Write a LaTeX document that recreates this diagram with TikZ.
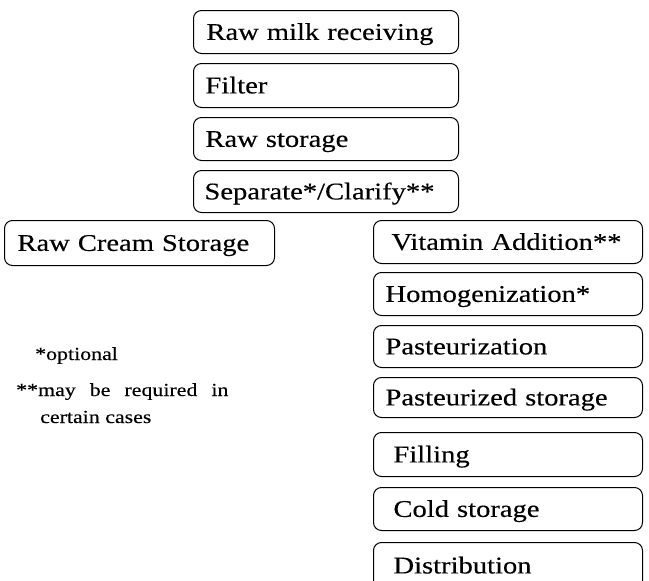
\documentclass[tikz,border=0pt]{standalone}
\usepackage{fontspec}
\setmainfont[FakeStretch=1.19, FakeBold=0.3]{Liberation Serif}
\begin{document}
\begin{tikzpicture}[x=1pt,y=-1pt,
  stepbox/.style={draw, line width=1pt, rounded corners=8pt, anchor=north west,
    inner ysep=0pt, text height=15.8pt, text depth=0pt,
    font=\fontsize{24}{28}\selectfont, align=left},
  note/.style={anchor=base west, inner sep=0pt, font=\fontsize{18.4}{22}\selectfont}]
  \clip (0,0) rectangle (649,581);
  % main line
  \node[stepbox, minimum width=265pt, minimum height=43pt, text width=239pt, inner xsep=13pt] (recv) at (193,10) {Raw milk receiving};
  \node[stepbox, minimum width=265pt, minimum height=44pt, text width=241pt, inner xsep=12pt] (filt) at (193,63) {Filter};
  \node[stepbox, minimum width=265pt, minimum height=43pt, text width=241pt, inner xsep=12pt] (raws) at (193,117) {Raw storage};
  \node[stepbox, minimum width=265pt, minimum height=42pt, text width=243pt, inner xsep=11pt] (sep) at (193,170) {Separate*/Clarify**};
  % cream branch
  \node[stepbox, minimum width=270pt, minimum height=45pt, text width=244pt, inner xsep=13pt] (cream) at (4,220) {Raw Cream Storage};
  % milk branch
  \node[stepbox, minimum width=269pt, minimum height=43pt, text width=233pt, inner xsep=18pt] (vit) at (373,220) {Vitamin Addition**};
  \node[stepbox, minimum width=269pt, minimum height=43pt, text width=245pt, inner xsep=12pt] (homo) at (373,272) {Homogenization*};
  \node[stepbox, minimum width=269pt, minimum height=42pt, text width=245pt, inner xsep=12pt] (past) at (373,325) {Pasteurization};
  \node[stepbox, minimum width=269pt, minimum height=40pt, text width=245pt, inner xsep=12pt] (pstor) at (373,377) {Pasteurized storage};
  \node[stepbox, minimum width=269pt, minimum height=44pt, text width=229pt, inner xsep=20pt] (fill) at (373,432) {Filling};
  \node[stepbox, minimum width=269pt, minimum height=43pt, text width=229pt, inner xsep=20pt] (cold) at (373,487) {Cold storage};
  \node[stepbox, minimum width=269pt, minimum height=46pt, text width=229pt, inner xsep=20pt] (dist) at (373,542) {Distribution};
  % footnotes (the second line is set with wide word spacing)
  \node[note] (n1) at (35,360) {*optional};
  \node[note] (n2) at (16,396) {**may\hspace{14pt}be\hspace{14pt}required\hspace{14pt}in};
  \node[note] (n3) at (40,423) {certain cases};
\end{tikzpicture}
\end{document}
